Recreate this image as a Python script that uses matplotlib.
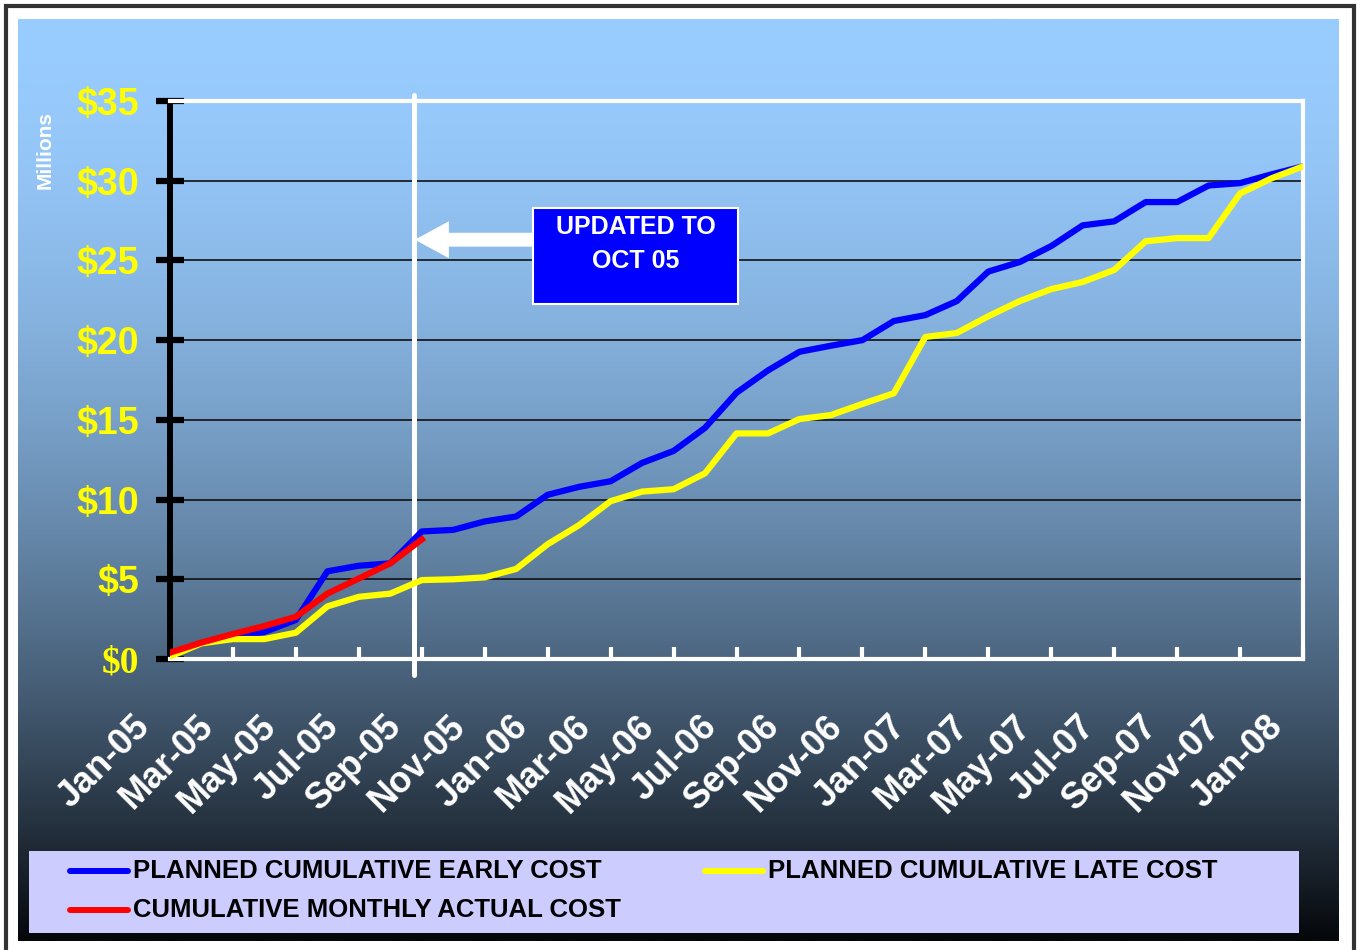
import numpy as np
import matplotlib
matplotlib.use('Agg')
import matplotlib.pyplot as plt
from matplotlib import font_manager
from matplotlib.patches import Rectangle
from matplotlib.lines import Line2D
from matplotlib.transforms import ScaledTranslation

plt.rcParams['font.family'] = 'Liberation Sans'
plt.rcParams['font.weight'] = 'bold'

# cumulative cost, $ millions, one value per month Jan-05 .. Jan-08
early = [0.3, 1.0, 1.4, 1.7, 2.45, 5.5, 5.85, 6.0, 8.0,
         8.1, 8.63, 8.94, 10.3, 10.8, 11.15, 12.3, 13.05, 14.5, 16.7,
         18.1, 19.27, 19.65, 20.0,
         21.2, 21.57, 22.45, 24.3, 24.9, 25.9, 27.2, 27.45, 28.66, 28.66,
         29.7, 29.85, 30.4, 30.9]
late = [0.15, 0.98, 1.25, 1.25, 1.65, 3.3, 3.9, 4.1, 4.95,
        5.0, 5.12, 5.65, 7.2, 8.4, 9.9, 10.5, 10.65, 11.65, 14.15,
        14.15, 15.05, 15.3, 16.0,
        16.67, 20.2, 20.45, 21.5, 22.45, 23.2, 23.65, 24.4, 26.2, 26.4,
        26.4, 29.2, 30.15, 30.9]
actual = [0.4, 1.03, 1.57, 2.07, 2.65, 4.1, 5.05, 6.0, 7.5]

x_labels = ['Jan-05', 'Mar-05', 'May-05', 'Jul-05', 'Sep-05', 'Nov-05',
            'Jan-06', 'Mar-06', 'May-06', 'Jul-06', 'Sep-06', 'Nov-06',
            'Jan-07', 'Mar-07', 'May-07', 'Jul-07', 'Sep-07', 'Nov-07',
            'Jan-08']
y_ticks = [0, 5, 10, 15, 20, 25, 30, 35]
y_labels = ['$0', '$5', '$10', '$15', '$20', '$25', '$30', '$35']
update_month = 7.75   # "updated to" marker, months after Jan-05

W, H = 1359, 950
def fx(p): return p / W
def fy(p): return 1 - p / H

fig = plt.figure(figsize=(W / 100, H / 100), dpi=100, facecolor='white')

# outer frame
fig.patches.append(Rectangle((fx(6), -0.05), fx(1354) - fx(6), fy(6) + 0.05,
                             transform=fig.transFigure, fill=False,
                             ec='#333333', lw=3, zorder=0))

# gradient background panel
bg = fig.add_axes([fx(18), fy(941), fx(1339) - fx(18), fy(19) - fy(941)], zorder=0)
t = np.linspace(0, 1, 600)[:, None] ** 1.8
top = np.array([153, 204, 255]) / 255
bot = np.array([5, 7, 10]) / 255
grad = (top * (1 - t) + bot * t)[:, None, :]
bg.imshow(grad, aspect='auto', extent=[0, 1, 0, 1])
bg.axis('off')

ax = fig.add_axes([fx(170), fy(659), fx(1303) - fx(170), fy(101) - fy(659)], zorder=1)
ax.set_facecolor('none')

months = np.arange(len(early))
ax.plot(months, early, color='#0000FF', lw=4.5, zorder=3)
ax.plot(months, late, color='#FFFF00', lw=4.5, zorder=4)
ax.plot(np.arange(len(actual)), actual, color='#FF0000', lw=4.5, zorder=5)

ax.axvline(update_month, ymin=-0.029, ymax=1.011, color='white', lw=3.6,
           clip_on=False, solid_capstyle='round', zorder=2)
ax.annotate('', xy=(update_month + 0.03, 26.3), xytext=(11.8, 26.3),
            arrowprops=dict(arrowstyle='simple,head_length=2.45,head_width=2.66,tail_width=1.0',
                            mutation_scale=10, fc='white', ec='none',
                            shrinkA=0, shrinkB=0), zorder=2)

ax.set_xlim(0, len(early) - 1)
ax.set_ylim(0, 35)
ax.set_yticks(y_ticks)
ax.set_yticklabels(y_labels)
ax.set_xticks(np.arange(0, len(early), 2))
ax.set_xticklabels(x_labels, rotation=45, ha='right', va='center',
                   rotation_mode='anchor')

ax.set_axisbelow(True)
ax.grid(axis='y', color='#111111', lw=1.2)

for s in ['top', 'right', 'bottom']:
    ax.spines[s].set_color('white')
    ax.spines[s].set_linewidth(3)
ax.spines['left'].set_color('black')
ax.spines['left'].set_linewidth(4.3)

ax.tick_params(axis='y', direction='inout', length=20, width=4.5, color='black',
               labelcolor='#FFFF00', labelsize=27, pad=12)
ax.tick_params(axis='x', direction='in', length=8.6, width=3, color='white',
               labelcolor='white', labelsize=26, pad=0)
shift = ScaledTranslation(-0.25, -0.62, fig.dpi_scale_trans)
for lbl in ax.get_xticklabels():
    lbl.set_transform(lbl.get_transform() + shift)
ax.get_yticklabels()[0].set_fontfamily('Liberation Serif')

fig.text(fx(45), fy(150), 'Millions', rotation=90, color='white', fontsize=15,
         ha='center', va='center')

# "updated to" box
fig.patches.append(Rectangle((fx(533), fy(304)), fx(738) - fx(533), fy(208) - fy(304),
                             transform=fig.transFigure, fc='#0000FF', ec='white',
                             lw=1.5, zorder=5))
fig.text(fx(636), fy(227), 'UPDATED TO', color='white', fontsize=18,
         ha='center', va='center', zorder=6)
fig.text(fx(636), fy(261), 'OCT 05', color='white', fontsize=18,
         ha='center', va='center', zorder=6)

# legend
names = {f.name for f in font_manager.fontManager.ttflist}
if 'Liberation Sans Narrow' in names:
    leg_font, leg_size = 'Liberation Sans Narrow', 22
else:
    leg_font, leg_size = 'Liberation Sans', 18.5
fig.patches.append(Rectangle((fx(29), fy(933)), fx(1299) - fx(29), fy(851) - fy(933),
                             transform=fig.transFigure, fc='#CCCCFF', ec='none', zorder=5))
entries = [('PLANNED CUMULATIVE EARLY COST', '#0000FF', 70, 871),
           ('PLANNED CUMULATIVE LATE COST', '#FFFF00', 705, 871),
           ('CUMULATIVE MONTHLY ACTUAL COST', '#FF0000', 70, 910)]
for label, col, x0, y0 in entries:
    fig.lines.append(Line2D([fx(x0), fx(x0 + 58)], [fy(y0), fy(y0)], color=col, lw=4.3,
                            solid_capstyle='round', transform=fig.transFigure, zorder=6))
    fig.text(fx(x0 + 63), fy(y0), label, color='black', fontsize=leg_size,
             family=leg_font, ha='left', va='center', zorder=6)

fig.savefig('out.png', dpi=100, facecolor='white')
